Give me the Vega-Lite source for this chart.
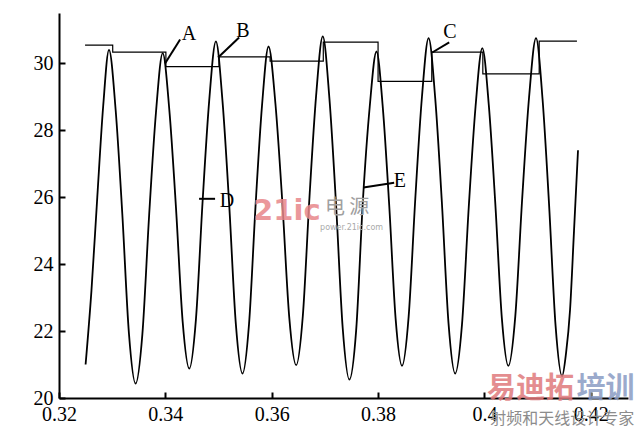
{
  "$schema": "https://vega.github.io/schema/vega-lite/v6.json",
  "width": 569,
  "height": 385,
  "autosize": {"type": "none"},
  "padding": {"left": 59, "top": 13, "right": 11, "bottom": 32},
  "background": "white",
  "config": {
    "view": {"stroke": null},
    "axis": {
      "domainColor": "black",
      "domainWidth": 2,
      "tickColor": "black",
      "tickWidth": 2,
      "tickSize": -6,
      "labelPadding": 12,
      "labelFont": "Liberation Serif",
      "labelFontSize": 20,
      "labelColor": "black",
      "grid": false,
      "title": null,
      "labelOverlap": false,
      "labelBound": false,
      "labelFlush": false
    }
  },
  "datasets": {
    "wave": [
      {"x": 0.3250, "y": 21.0}, {"x": 0.3261, "y": 23.2}, {"x": 0.3272, "y": 26.0}, {"x": 0.3283, "y": 28.7}, {"x": 0.3294, "y": 30.4},
      {"x": 0.33065, "y": 28.61}, {"x": 0.3319, "y": 25.51}, {"x": 0.33315, "y": 21.93}, {"x": 0.3344, "y": 20.43},
      {"x": 0.33568, "y": 21.91}, {"x": 0.33695, "y": 25.46}, {"x": 0.33823, "y": 28.52}, {"x": 0.3395, "y": 30.3},
      {"x": 0.34075, "y": 28.60}, {"x": 0.3420, "y": 25.68}, {"x": 0.34325, "y": 22.29}, {"x": 0.3445, "y": 20.88},
      {"x": 0.34575, "y": 22.35}, {"x": 0.3470, "y": 25.86}, {"x": 0.34825, "y": 28.89}, {"x": 0.3495, "y": 30.65},
      {"x": 0.35075, "y": 28.86}, {"x": 0.3520, "y": 25.79}, {"x": 0.35325, "y": 22.22}, {"x": 0.3545, "y": 20.73},
      {"x": 0.35573, "y": 22.20}, {"x": 0.35695, "y": 25.71}, {"x": 0.35818, "y": 28.74}, {"x": 0.3594, "y": 30.5},
      {"x": 0.3607, "y": 28.79}, {"x": 0.3620, "y": 25.84}, {"x": 0.3633, "y": 22.41}, {"x": 0.3646, "y": 20.98},
      {"x": 0.36585, "y": 22.45}, {"x": 0.3671, "y": 25.99}, {"x": 0.36835, "y": 29.03}, {"x": 0.3696, "y": 30.8},
      {"x": 0.37085, "y": 28.95}, {"x": 0.3721, "y": 25.78}, {"x": 0.37335, "y": 22.09}, {"x": 0.3746, "y": 20.55},
      {"x": 0.37588, "y": 22.02}, {"x": 0.37715, "y": 25.9}, {"x": 0.37843, "y": 28.7}, {"x": 0.3797, "y": 30.35},
      {"x": 0.3809, "y": 28.66}, {"x": 0.3821, "y": 25.75}, {"x": 0.3833, "y": 22.37}, {"x": 0.3845, "y": 20.96},
      {"x": 0.38575, "y": 22.43}, {"x": 0.3870, "y": 25.95}, {"x": 0.38825, "y": 28.99}, {"x": 0.3895, "y": 30.75},
      {"x": 0.39075, "y": 28.95}, {"x": 0.3920, "y": 25.84}, {"x": 0.39325, "y": 22.23}, {"x": 0.3945, "y": 20.73},
      {"x": 0.39578, "y": 22.19}, {"x": 0.39705, "y": 25.69}, {"x": 0.39833, "y": 28.70}, {"x": 0.3996, "y": 30.45},
      {"x": 0.40083, "y": 28.74}, {"x": 0.40205, "y": 25.80}, {"x": 0.40328, "y": 22.38}, {"x": 0.4045, "y": 20.96},
      {"x": 0.4058, "y": 22.43}, {"x": 0.4071, "y": 25.95}, {"x": 0.4084, "y": 28.99}, {"x": 0.4097, "y": 30.75},
      {"x": 0.41093, "y": 28.93}, {"x": 0.41215, "y": 25.80}, {"x": 0.41338, "y": 22.16}, {"x": 0.4146, "y": 20.65},
      {"x": 0.41535, "y": 21.34}, {"x": 0.4161, "y": 22.63}, {"x": 0.41685, "y": 25.0}, {"x": 0.4176, "y": 27.4}
    ],
    "hold": [
      {"x": 0.3249, "y": 30.54}, {"x": 0.3301, "y": 30.33}, {"x": 0.3401, "y": 29.90}, {"x": 0.3501, "y": 30.19},
      {"x": 0.3597, "y": 30.06}, {"x": 0.3697, "y": 30.63}, {"x": 0.3800, "y": 29.46}, {"x": 0.3901, "y": 30.33},
      {"x": 0.3997, "y": 29.68}, {"x": 0.4103, "y": 30.66}, {"x": 0.4174, "y": 30.66}
    ],
    "leaders": [
      {"label": "A", "x1": 0.34277, "y1": 30.71, "x2": 0.33994, "y2": 29.99},
      {"label": "B", "x1": 0.35387, "y1": 30.77, "x2": 0.34992, "y2": 30.17},
      {"label": "C", "x1": 0.39338, "y1": 30.62, "x2": 0.39018, "y2": 30.32},
      {"label": "D", "x1": 0.34634, "y1": 25.95, "x2": 0.34935, "y2": 25.95},
      {"label": "E", "x1": 0.37725, "y1": 26.29, "x2": 0.38303, "y2": 26.43}
    ],
    "labels": [
      {"label": "A", "x": 0.34445, "y": 30.86},
      {"label": "B", "x": 0.35460, "y": 30.95},
      {"label": "C", "x": 0.39352, "y": 30.92},
      {"label": "D", "x": 0.35159, "y": 25.87},
      {"label": "E", "x": 0.38412, "y": 26.47}
    ]
  },
  "layer": [
    {
      "data": {"name": "wave"},
      "mark": {"type": "line", "color": "black", "strokeWidth": 1.8, "interpolate": "monotone"},
      "encoding": {
        "x": {"field": "x", "type": "quantitative", "scale": {"domain": [0.32, 0.427], "nice": false, "zero": false},
              "axis": {"values": [0.32, 0.34, 0.36, 0.38, 0.4, 0.42], "format": ".2~f"}},
        "y": {"field": "y", "type": "quantitative", "scale": {"domain": [20, 31.5], "nice": false, "zero": false},
              "axis": {"values": [20, 22, 24, 26, 28, 30], "format": "d"}}
      }
    },
    {
      "data": {"name": "hold"},
      "mark": {"type": "line", "color": "black", "strokeWidth": 1.2, "interpolate": "step-after"},
      "encoding": {
        "x": {"field": "x", "type": "quantitative"},
        "y": {"field": "y", "type": "quantitative"}
      }
    },
    {
      "data": {"name": "leaders"},
      "mark": {"type": "rule", "color": "black", "strokeWidth": 2},
      "encoding": {
        "x": {"field": "x1", "type": "quantitative"},
        "y": {"field": "y1", "type": "quantitative"},
        "x2": {"field": "x2"},
        "y2": {"field": "y2"}
      }
    },
    {
      "data": {"name": "labels"},
      "mark": {"type": "text", "font": "Liberation Serif", "fontSize": 20, "color": "black", "align": "center", "baseline": "middle"},
      "encoding": {
        "x": {"field": "x", "type": "quantitative"},
        "y": {"field": "y", "type": "quantitative"},
        "text": {"field": "label"}
      }
    },
    {
      "data": {"values": [{"t": "21ic", "x": 0.3565, "y": 25.59}]},
      "mark": {"type": "text", "font": "DejaVu Sans", "fontWeight": "bold", "fontSize": 29, "color": "#e8878a", "opacity": 0.85, "align": "left", "baseline": "middle"},
      "encoding": {"x": {"field": "x", "type": "quantitative"}, "y": {"field": "y", "type": "quantitative"}, "text": {"field": "t"}}
    },
    {
      "data": {"values": [{"t": "电 源", "x": 0.3700, "y": 25.68}]},
      "mark": {"type": "text", "font": "Noto Sans CJK SC", "fontSize": 20, "color": "#a0a0a0", "align": "left", "baseline": "middle"},
      "encoding": {"x": {"field": "x", "type": "quantitative"}, "y": {"field": "y", "type": "quantitative"}, "text": {"field": "t"}}
    },
    {
      "data": {"values": [{"t": "power.21ic.com", "x": 0.3691, "y": 25.08}]},
      "mark": {"type": "text", "font": "DejaVu Sans", "fontSize": 8, "color": "#aaaaaa", "align": "left", "baseline": "middle"},
      "encoding": {"x": {"field": "x", "type": "quantitative"}, "y": {"field": "y", "type": "quantitative"}, "text": {"field": "t"}}
    },
    {
      "data": {"values": [{"t": "易迪拓", "x": 0.4005, "y": 20.28}]},
      "mark": {"type": "text", "font": "Noto Sans CJK SC", "fontWeight": "bold", "fontSize": 29, "color": "#e07a7c", "opacity": 0.85, "align": "left", "baseline": "middle"},
      "encoding": {"x": {"field": "x", "type": "quantitative"}, "y": {"field": "y", "type": "quantitative"}, "text": {"field": "t"}}
    },
    {
      "data": {"values": [{"t": "培训", "x": 0.4173, "y": 20.28}]},
      "mark": {"type": "text", "font": "Noto Sans CJK SC", "fontWeight": "bold", "fontSize": 29, "color": "#8a9cc4", "opacity": 0.85, "align": "left", "baseline": "middle"},
      "encoding": {"x": {"field": "x", "type": "quantitative"}, "y": {"field": "y", "type": "quantitative"}, "text": {"field": "t"}}
    },
    {
      "data": {"values": [{"t": "射频和天线设计专家", "x": 0.4011, "y": 19.36}]},
      "mark": {"type": "text", "font": "Noto Sans CJK SC", "fontSize": 16, "color": "#8c8c8c", "align": "left", "baseline": "middle"},
      "encoding": {"x": {"field": "x", "type": "quantitative"}, "y": {"field": "y", "type": "quantitative"}, "text": {"field": "t"}}
    }
  ]
}
